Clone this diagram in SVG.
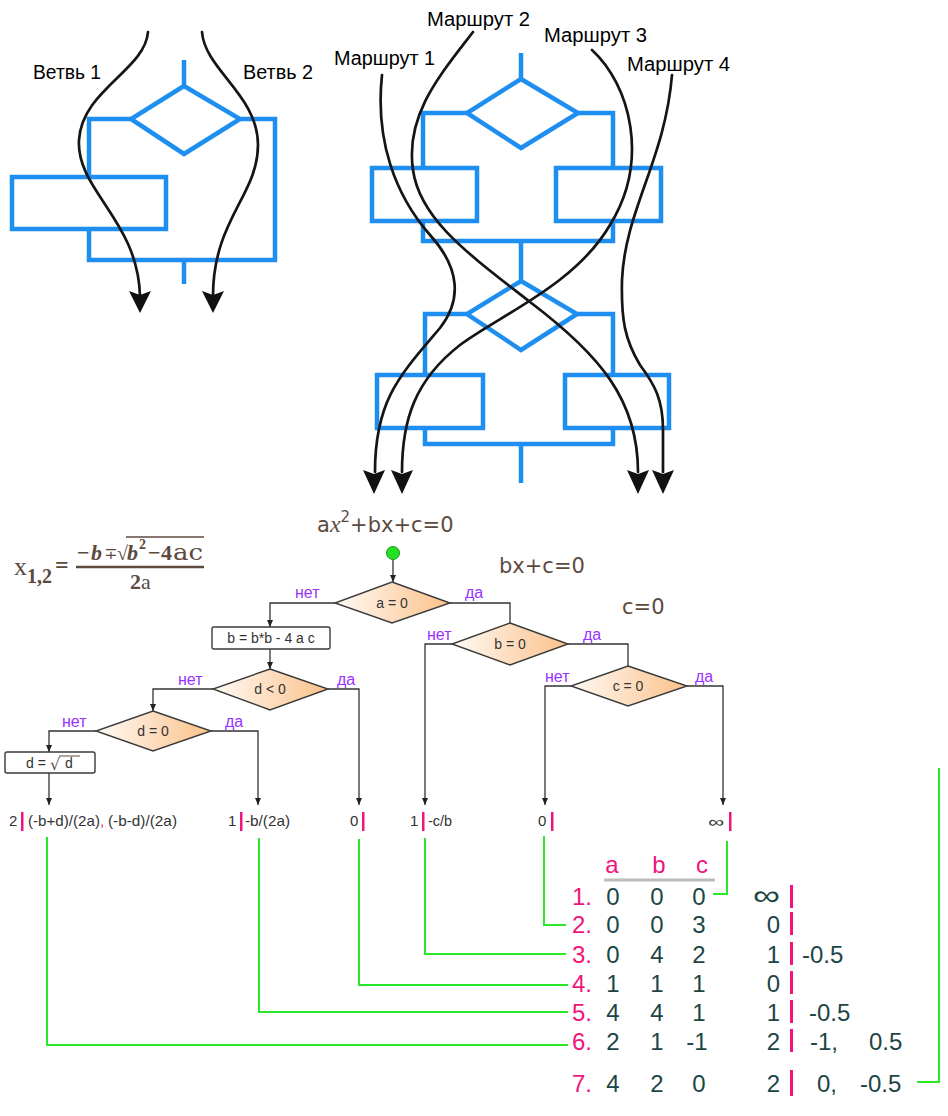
<svg xmlns="http://www.w3.org/2000/svg" width="948" height="1116" viewBox="0 0 948 1116">
<defs>
<linearGradient id="dg" x1="0" y1="0" x2="1" y2="0">
<stop offset="0" stop-color="#fffaf5"/>
<stop offset="1" stop-color="#fbc18a"/>
</linearGradient>
<marker id="ah" markerWidth="8" markerHeight="8" refX="7" refY="4" orient="auto" markerUnits="userSpaceOnUse">
<path d="M0,1 L7,4 L0,7 Z" fill="#222"/>
</marker>
</defs>
<style>
.blue{fill:none;stroke:#1e8ff0;stroke-width:4.5;stroke-linejoin:miter}
.curve{fill:none;stroke:#151515;stroke-width:2.7;stroke-linecap:round}
.head{fill:#111}
.lbl{font-family:"Liberation Sans",Arial,sans-serif;font-size:20px;fill:#000}
.eq{font-family:"DejaVu Sans",sans-serif;font-size:21px;fill:#5c4a3f}
.dia{fill:url(#dg);stroke:#3a3a3a;stroke-width:1.4}
.box{fill:#fff;stroke:#3a3a3a;stroke-width:1.4}
.nt{font-family:"Liberation Sans",Arial,sans-serif;font-size:14px;fill:#333;text-anchor:middle}
.yn{font-family:"Liberation Sans",Arial,sans-serif;font-size:16px;fill:#9933ff}
.ln{fill:none;stroke:#333;stroke-width:1.3}
.res{font-family:"Liberation Sans",Arial,sans-serif;font-size:15px;fill:#333}
.pk{fill:#f0147c}
.gr{fill:none;stroke:#2ae82a;stroke-width:2}
.tn{font-family:"Liberation Sans",Arial,sans-serif;font-size:24px;fill:#1d4545}
.tp{font-family:"Liberation Sans",Arial,sans-serif;font-size:24px;fill:#f0147c}
.fm{font-family:"Liberation Serif","DejaVu Serif",serif;fill:#5c4a3f}
</style>

<!-- Top-left: branches -->
<g id="tl-structure">
<line class="blue" x1="184" y1="60" x2="184" y2="86"/>
<polygon class="blue" points="184,86 240,119 184,154 131,119"/>
<polyline class="blue" points="131,119 89,119 89,177"/>
<rect class="blue" x="12" y="177" width="154" height="52"/>
<polyline class="blue" points="89,229 89,260 275,260 275,119 240,119"/>
<line class="blue" x1="184" y1="260" x2="184" y2="284"/>
</g>
<g id="tl-branches">
<path class="curve" d="M148,32 C145,70 82,90 79,140 C76,190 138,220 140,296"/>
<path class="curve" d="M202,32 C205,70 258,95 258,145 C258,195 213,220 213,296"/>
<path class="head" d="M140,313 L129,291 L140,295 L151,291 Z"/>
<path class="head" d="M213,313 L202,291 L213,295 L224,291 Z"/>
<text class="lbl" x="33" y="79" font-size="19" textLength="68" lengthAdjust="spacingAndGlyphs">Ветвь 1</text>
<text class="lbl" x="243" y="79" font-size="19" textLength="70" lengthAdjust="spacingAndGlyphs">Ветвь 2</text>
</g>

<!-- Top-right: routes -->
<g id="tr-structure">
<line class="blue" x1="521" y1="53" x2="521" y2="79"/>
<polygon class="blue" points="521,79 578,113 521,148 467,113"/>
<polyline class="blue" points="467,113 423,113 423,168"/>
<polyline class="blue" points="578,113 613,113 613,168"/>
<rect class="blue" x="372" y="168" width="105" height="53"/>
<rect class="blue" x="556" y="168" width="105" height="53"/>
<polyline class="blue" points="423,221 423,241 613,241 613,221"/>
<line class="blue" x1="521" y1="241" x2="521" y2="281"/>
<polygon class="blue" points="521,281 577,314 521,350 467,314"/>
<polyline class="blue" points="467,314 425,314 425,375"/>
<polyline class="blue" points="577,314 613,314 613,375"/>
<rect class="blue" x="377" y="375" width="106" height="53"/>
<rect class="blue" x="565" y="375" width="104" height="53"/>
<polyline class="blue" points="425,428 425,444 613,444 613,428"/>
<line class="blue" x1="521" y1="444" x2="521" y2="483"/>
</g>
<g id="tr-routes">
<path class="curve" d="M382,75 C375,140 395,195 430,235 C460,268 462,300 440,328 C400,375 375,400 375,472"/>
<path class="curve" d="M473,32 C440,75 405,115 413,170 C420,220 470,255 530,302 C600,355 638,400 638,472"/>
<path class="curve" d="M592,50 C630,85 650,160 610,225 C575,285 500,315 460,345 C415,380 402,420 402,472"/>
<path class="curve" d="M672,75 C665,160 625,210 622,280 C621,320 625,340 640,365 C655,385 663,400 663,430 L663,472"/>
<path class="head" d="M374,494 L363,470 L374,474 L385,470 Z"/>
<path class="head" d="M402,494 L391,470 L402,474 L413,470 Z"/>
<path class="head" d="M638,494 L627,470 L638,474 L649,470 Z"/>
<path class="head" d="M663,494 L652,470 L663,474 L674,470 Z"/>
<text class="lbl" x="334" y="65" textLength="101" lengthAdjust="spacingAndGlyphs">Маршрут 1</text>
<text class="lbl" x="427" y="26" textLength="103" lengthAdjust="spacingAndGlyphs">Маршрут 2</text>
<text class="lbl" x="544" y="42" textLength="103" lengthAdjust="spacingAndGlyphs">Маршрут 3</text>
<text class="lbl" x="627" y="71" textLength="103" lengthAdjust="spacingAndGlyphs">Маршрут 4</text>
</g>

<!-- Formulas -->
<g id="formula-roots">
<text class="fm" x="14" y="575" font-size="26">x</text>
<text class="fm" x="27" y="583" font-size="20" font-weight="bold">1,2</text>
<text class="fm" x="55" y="573" font-size="24" font-weight="bold">=</text>
<line x1="76" y1="567" x2="204" y2="567" stroke="#5c4a3f" stroke-width="2.5"/>
<g class="fm" font-size="22">
<text x="77" y="560" font-weight="bold">−</text>
<text x="91" y="560" font-weight="bold" font-style="italic">b</text>
<text x="104" y="559" font-size="16">∓</text>
<text x="117" y="560" font-size="20">√</text>
<text x="127" y="560" font-weight="bold" font-style="italic">b</text>
<text x="139" y="549" font-size="14" font-weight="bold">2</text>
<text x="148" y="560" font-weight="bold">−</text>
<text x="161" y="560" font-weight="bold">4</text>
<text x="173" y="560" font-family="'DejaVu Serif',serif" font-size="22" textLength="30" lengthAdjust="spacingAndGlyphs">ac</text>
</g>
<line x1="126" y1="537" x2="204" y2="537" stroke="#5c4a3f" stroke-width="1.5"/>
<text class="fm" x="130" y="589" font-size="22"><tspan font-weight="bold">2</tspan>a</text>
</g>
<g id="eq-full">
<text class="eq" x="317" y="532">a<tspan font-family="'Liberation Serif',serif" font-style="italic" font-size="24">x</tspan><tspan font-size="15" dy="-10">2</tspan><tspan dy="10">+bx+c=0</tspan></text>
</g>
<g id="eq-linear"><text class="eq" x="499" y="573">bx+c=0</text></g>
<g id="eq-const"><text class="eq" x="622" y="614">c=0</text></g>

<!-- Flowchart connectors -->
<g id="connectors">
<line class="ln" x1="393" y1="560" x2="393" y2="582" marker-end="url(#ah)"/>
<polyline class="ln" points="335,603 270,603 270,627" marker-end="url(#ah)"/>
<polyline class="ln" points="450,603 510,603 510,623"/>
<line class="ln" x1="270" y1="649" x2="270" y2="669" marker-end="url(#ah)"/>
<polyline class="ln" points="328,689 359,689 359,805" marker-end="url(#ah)"/>
<polyline class="ln" points="213,689 153,689 153,711" marker-end="url(#ah)"/>
<polyline class="ln" points="96,731 49,731 49,752" marker-end="url(#ah)"/>
<polyline class="ln" points="211,731 258,731 258,805" marker-end="url(#ah)"/>
<line class="ln" x1="49" y1="773" x2="49" y2="805" marker-end="url(#ah)"/>
<polyline class="ln" points="452,644 425,644 425,805" marker-end="url(#ah)"/>
<polyline class="ln" points="568,644 628,644 628,666"/>
<polyline class="ln" points="571,686 545,686 545,805" marker-end="url(#ah)"/>
<polyline class="ln" points="687,686 723,686 723,805" marker-end="url(#ah)"/>
<text class="yn" x="295" y="598">нет</text>
<text class="yn" x="465" y="598">да</text>
<text class="yn" x="337" y="685">да</text>
<text class="yn" x="178" y="685">нет</text>
<text class="yn" x="62" y="727">нет</text>
<text class="yn" x="225" y="727">да</text>
<text class="yn" x="427" y="640">нет</text>
<text class="yn" x="583" y="640">да</text>
<text class="yn" x="545" y="682">нет</text>
<text class="yn" x="695" y="682">да</text>
</g>

<g id="start"><circle cx="393" cy="553" r="6.5" fill="#22e022" stroke="#1a9a1a" stroke-width="1"/></g>
<g id="node-a0">
<polygon class="dia" points="392,582 450,603 392,623 335,603"/>
<text class="nt" x="392" y="608">a = 0</text>
</g>
<g id="node-disc">
<rect class="box" x="212" y="627" width="118" height="22" rx="2"/>
<text class="nt" x="271" y="643">b = b*b - 4 a c</text>
</g>
<g id="node-dlt0">
<polygon class="dia" points="270,669 328,689 270,710 213,689"/>
<text class="nt" x="270" y="694">d &lt; 0</text>
</g>
<g id="node-deq0">
<polygon class="dia" points="153,711 211,731 153,751 96,731"/>
<text class="nt" x="153" y="736">d = 0</text>
</g>
<g id="node-sqrt">
<rect class="box" x="5" y="752" width="90" height="21" rx="2"/>
<text class="nt" x="36" y="768">d =</text>
<text x="50" y="770" font-family="'DejaVu Serif',serif" font-size="16" fill="#5c4a3f">√</text>
<line x1="59" y1="756" x2="80" y2="756" stroke="#5c4a3f" stroke-width="1"/>
<text class="nt" x="69" y="768">d</text>
</g>
<g id="node-b0">
<polygon class="dia" points="510,623 568,644 510,665 452,644"/>
<text class="nt" x="510" y="649">b = 0</text>
</g>
<g id="node-c0">
<polygon class="dia" points="628,666 687,686 628,706 571,686"/>
<text class="nt" x="628" y="691">c = 0</text>
</g>

<!-- Results -->
<g id="res-two">
<text class="res" x="9" y="826">2</text>
<rect class="pk" x="21" y="812" width="2.5" height="19"/>
<text class="res" x="28" y="826" textLength="72" lengthAdjust="spacingAndGlyphs">(-b+d)/(2a)</text>
<text class="res" x="100" y="826" style="fill:#f0147c">,</text>
<text class="res" x="108" y="826" textLength="69" lengthAdjust="spacingAndGlyphs">(-b-d)/(2a)</text>
</g>
<g id="res-one">
<text class="res" x="228" y="826">1</text>
<rect class="pk" x="240" y="812" width="2.5" height="19"/>
<text class="res" x="245" y="826" textLength="45" lengthAdjust="spacingAndGlyphs">-b/(2a)</text>
</g>
<g id="res-none1">
<text class="res" x="350" y="826">0</text>
<rect class="pk" x="362" y="812" width="2.5" height="19"/>
</g>
<g id="res-lin">
<text class="res" x="410" y="826">1</text>
<rect class="pk" x="422" y="812" width="2.5" height="19"/>
<text class="res" x="428" y="826" textLength="24" lengthAdjust="spacingAndGlyphs">-c/b</text>
</g>
<g id="res-none2">
<text class="res" x="538" y="826">0</text>
<rect class="pk" x="551" y="812" width="2.5" height="19"/>
</g>
<g id="res-inf">
<text class="res" x="708" y="827" font-size="20" textLength="16" lengthAdjust="spacingAndGlyphs">∞</text>
<rect class="pk" x="729" y="812" width="2.5" height="19"/>
</g>

<!-- Green test-route links -->
<g id="test-links">
<polyline class="gr" points="727,841 727,894 713,894"/>
<polyline class="gr" points="544,836 544,925 566,925"/>
<polyline class="gr" points="425,838 425,954 566,954"/>
<polyline class="gr" points="359,839 359,985 568,985"/>
<polyline class="gr" points="259,838 259,1012 568,1012"/>
<polyline class="gr" points="47,837 47,1045 568,1045"/>
<polyline class="gr" points="917,1082 939,1082 939,768"/>
</g>

<!-- Table -->
<g id="table">
<text class="tp" x="612" y="873" text-anchor="middle">a</text>
<text class="tp" x="659" y="873" text-anchor="middle">b</text>
<text class="tp" x="702" y="873" text-anchor="middle">c</text>
<line x1="604" y1="880" x2="715" y2="880" stroke="#bbbbbb" stroke-width="3"/>

<g text-anchor="middle" class="tn">
<text class="tp" x="572" y="905" text-anchor="start">1.</text>
<text x="613" y="905">0</text><text x="657" y="905">0</text><text x="699" y="905">0</text>
<text x="753" y="905" text-anchor="start" textLength="27" lengthAdjust="spacingAndGlyphs" font-size="28">∞</text>

<text class="tp" x="572" y="933" text-anchor="start">2.</text>
<text x="613" y="933">0</text><text x="657" y="933">0</text><text x="699" y="933">3</text>
<text x="780" y="933" text-anchor="end">0</text>

<text class="tp" x="572" y="963" text-anchor="start">3.</text>
<text x="613" y="963">0</text><text x="657" y="963">4</text><text x="699" y="963">2</text>
<text x="780" y="963" text-anchor="end">1</text>
<text x="802" y="963" text-anchor="start">-0.5</text>

<text class="tp" x="572" y="992" text-anchor="start">4.</text>
<text x="613" y="992">1</text><text x="657" y="992">1</text><text x="699" y="992">1</text>
<text x="780" y="992" text-anchor="end">0</text>

<text class="tp" x="572" y="1021" text-anchor="start">5.</text>
<text x="613" y="1021">4</text><text x="657" y="1021">4</text><text x="699" y="1021">1</text>
<text x="780" y="1021" text-anchor="end">1</text>
<text x="809" y="1021" text-anchor="start">-0.5</text>

<text class="tp" x="572" y="1050" text-anchor="start">6.</text>
<text x="613" y="1050">2</text><text x="657" y="1050">1</text><text x="697" y="1050">-1</text>
<text x="780" y="1050" text-anchor="end">2</text>
<text x="810" y="1050" text-anchor="start">-1,</text>
<text x="869" y="1050" text-anchor="start">0.5</text>

<text class="tp" x="572" y="1092" text-anchor="start">7.</text>
<text x="613" y="1092">4</text><text x="657" y="1092">2</text><text x="699" y="1092">0</text>
<text x="780" y="1092" text-anchor="end">2</text>
<text x="817" y="1092" text-anchor="start">0,</text>
<text x="860" y="1092" text-anchor="start">-0.5</text>
</g>
<rect class="pk" x="790" y="885" width="3" height="23"/>
<rect class="pk" x="790" y="912" width="3" height="23"/>
<rect class="pk" x="790" y="942" width="3" height="23"/>
<rect class="pk" x="790" y="971" width="3" height="23"/>
<rect class="pk" x="790" y="1000" width="3" height="23"/>
<rect class="pk" x="790" y="1029" width="3" height="23"/>
<rect class="pk" x="790" y="1070" width="3" height="26"/>
</g>
</svg>
